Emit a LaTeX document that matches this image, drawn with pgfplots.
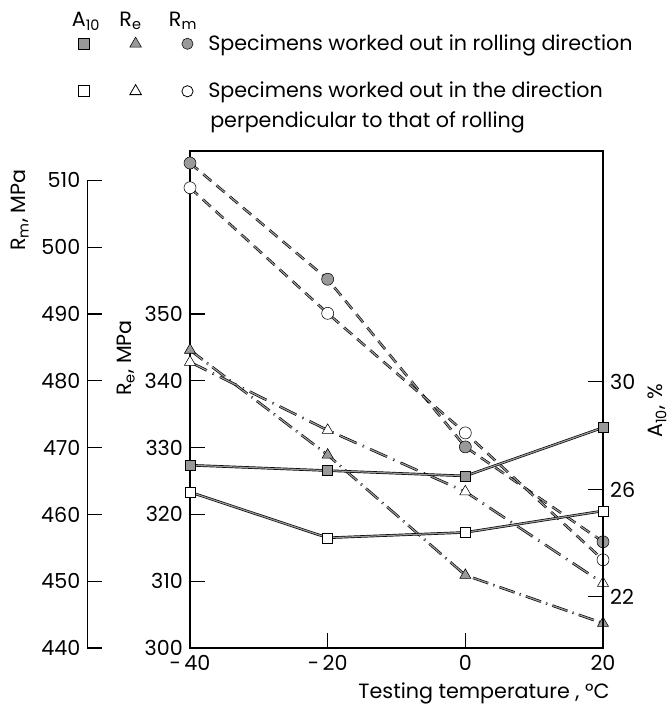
\documentclass[border=0pt]{standalone}
\usepackage{fontspec}
\setmainfont{Poppins}
\usepackage{pgfplots}
\usepackage{pgfplotstable}
\pgfplotsset{compat=1.18}

% Data
\pgfplotstableread{
T    Rm
-40  512.6
-20  495.2
0    470.1
20   455.9
}\RmRoll
\pgfplotstableread{
T    Rm
-40  508.9
-20  490.1
0    472.2
20   453.2
}\RmPerp
\pgfplotstableread{
T    Re
-40  344.6
-20  328.9
0    310.9
20   303.7
}\ReRoll
\pgfplotstableread{
T    Re
-40  342.8
-20  332.6
0    323.4
20   309.7
}\RePerp
\pgfplotstableread{
T    A
-40  26.9
-20  26.7
0    26.5
20   28.3
}\ARoll
\pgfplotstableread{
T    A
-40  25.9
-20  24.2
0    24.4
20   25.2
}\APerp

\definecolor{mkfill}{gray}{0.6}
\definecolor{lnfill}{gray}{0.6}

\pgfplotsset{
  dline/.style={no markers, draw=black, line width=0.5pt, double=lnfill, double distance=0.9pt},
  mk/.style={only marks, mark options={solid, draw=black, line width=0.6pt}},
  lgimg/.style={legend image code/.code={\path[draw=none,fill=none] (-5.5pt,-5.5pt) rectangle (5.5pt,5.5pt); \draw[##1] plot coordinates {(0pt,0pt)};}},
  lgimgL/.style={legend image code/.code={\path[draw=none,fill=none] (-5.5pt,-5.5pt) rectangle (15.6pt,5.5pt); \draw[##1] plot coordinates {(0pt,0pt)};}},
  myaxis/.style={at={(142.5pt,45.75pt)}, anchor=south west, scale only axis,
    width=309.75pt, height=372.75pt, xmin=-40, xmax=20,
    /pgf/number format/assume math mode=true,
    tick align=inside, major tick length=11pt,
    axis line style={line width=0.8pt}, tick style={line width=0.8pt, black}},
}

\begin{document}
\fontsize{15.5}{18}\selectfont
\begin{tikzpicture}
\useasboundingbox (0,0) rectangle (503.25pt,531.75pt);

% visible Rm axis on the far left
\begin{axis}[
  at={(65.6pt,45.75pt)}, anchor=south west, scale only axis,
  width=5pt, height=350.7pt,
  xmin=0, xmax=1, ymin=440, ymax=510,
  hide x axis, axis y line*=left,
  axis line style={-, line width=0.8pt},
  ytick={440,450,...,510}, tick align=inside, major tick length=11pt,
  tick style={line width=0.8pt, black},
  /pgf/number format/assume math mode=true,
]
\end{axis}

% main axis: Re
\begin{axis}[myaxis,
  ymin=300, ymax=374.4,
  xtick={-40,-20,0,20}, xticklabels={-\,40,-\,20,0,20},
  ytick={300,310,...,350},
  tick pos=left,
  legend columns=3,
  legend cell align=left,
  legend style={at={(-0.2757,1.2352)}, anchor=north west, draw=none, fill=none,
    inner sep=0pt, row sep=21.5pt, nodes={inner sep=0pt},
    /tikz/every even column/.append style={column sep=26.9pt}},
]
\addlegendimage{mk, lgimg, mark=square*, mark size=4.1pt, mark options={fill=mkfill}}
\addlegendentry{}
\addlegendimage{mk, lgimg, mark=triangle*, mark size=5pt, mark options={fill=mkfill}}
\addlegendentry{}
\addlegendimage{mk, lgimgL, mark=*, mark size=4.2pt, mark options={fill=mkfill}}
\addlegendentry{Specimens worked out in rolling direction}
\addlegendimage{mk, lgimg, mark=square, mark size=4.1pt}
\addlegendentry{}
\addlegendimage{mk, lgimg, mark=triangle, mark size=5pt}
\addlegendentry{}
\addlegendimage{mk, lgimgL, mark=o, mark size=4.2pt}
\addlegendentry{Specimens worked out in the direction}

\addplot[dline, dash pattern=on 12pt off 4pt on 1pt off 4pt] table[x=T,y=Re] {\ReRoll};
\addplot[mk, mark=triangle*, mark size=4.8pt, mark options={fill=mkfill}] table[x=T,y=Re] {\ReRoll};
\addplot[dline, dash pattern=on 14pt off 5pt on 1pt off 5pt] table[x=T,y=Re] {\RePerp};
\addplot[mk, mark=triangle*, mark size=4.8pt, mark options={fill=white}] table[x=T,y=Re] {\RePerp};
\end{axis}

% overlay axis: Rm (same scale as the visible Rm axis)
\begin{axis}[myaxis, hide axis, ymin=440, ymax=514.4]
\addplot[dline, dash pattern=on 8pt off 5pt] table[x=T,y=Rm] {\RmRoll};
\addplot[mk, mark=*, mark size=4.5pt, mark options={fill=mkfill}] table[x=T,y=Rm] {\RmRoll};
\addplot[dline, dash pattern=on 8pt off 5pt] table[x=T,y=Rm] {\RmPerp};
\addplot[mk, mark=*, mark size=4.5pt, mark options={fill=white}] table[x=T,y=Rm] {\RmPerp};
\end{axis}

% right axis: A10
\begin{axis}[myaxis, ymin=20.10, ymax=38.59,
  hide x axis, axis y line*=right, axis line style={-, line width=0.8pt},
  ytick={22,26,30}]
\addplot[dline] table[x=T,y=A] {\ARoll};
\addplot[mk, mark=square*, mark size=3.75pt, mark options={fill=mkfill}] table[x=T,y=A] {\ARoll};
\addplot[dline] table[x=T,y=A] {\APerp};
\addplot[mk, mark=square*, mark size=3.75pt, mark options={fill=white}] table[x=T,y=A] {\APerp};
\end{axis}

% axis titles
\node[rotate=90] at (15pt,374.25pt) {R\textsubscript{m}, MPa};
\node[rotate=90] at (94.5pt,263.25pt) {R\textsubscript{e}, MPa};
\node[rotate=90] at (492.75pt,223.5pt) {A\textsubscript{10}, \%};
\node at (363pt,12pt) {Testing temperature , °C};

% legend column headers and second line of the second entry
\node[anchor=base, inner sep=0pt] at (64.5pt,511.5pt) {A\textsubscript{10}};
\node[anchor=base, inner sep=0pt] at (97.9pt,511.5pt) {R\textsubscript{e}};
\node[anchor=base, inner sep=0pt] at (137.25pt,511.5pt) {R\textsubscript{m}};
\node[anchor=west, inner sep=0pt] at (157.5pt,440.25pt) {perpendicular to that of rolling};
\end{tikzpicture}
\end{document}
